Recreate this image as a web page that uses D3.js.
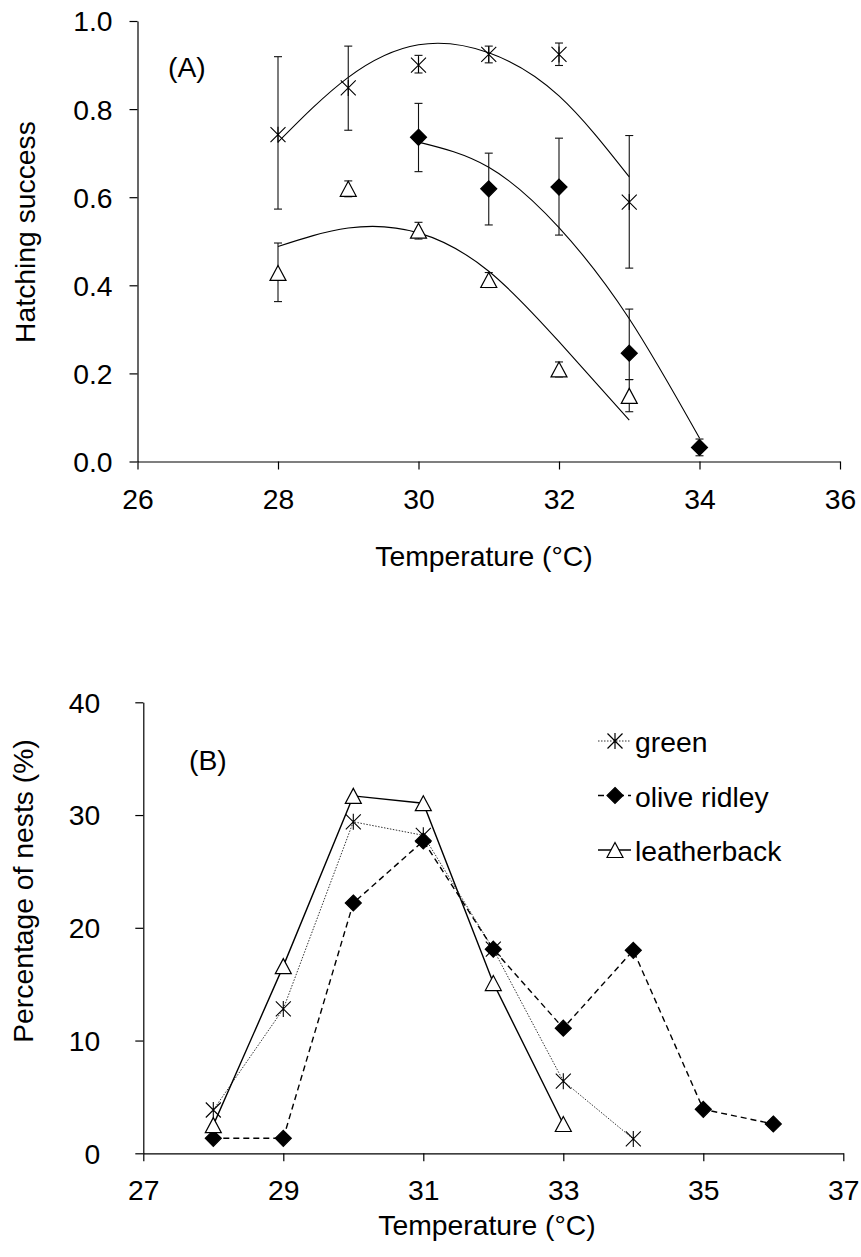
<!DOCTYPE html>
<html>
<head>
<meta charset="utf-8">
<script src="https://cdn.jsdelivr.net/npm/d3@7"></script>
<style>
body { margin: 0; background: #fff; }
text { font-family: Arial, "Liberation Sans", Helvetica, sans-serif; fill: #000; }
</style>
</head>
<body>
<script>
// panel A: hatching success vs temperature (mean with error bars, quadratic trend)
var greenTempA = [28, 29, 30, 31, 32, 33]
var greenA = [0.742, 0.848, 0.900, 0.924, 0.924, 0.589]
var greenHiA = [0.919, 0.943, 0.922, 0.943, 0.950, 0.740]
var greenLoA = [0.573, 0.752, 0.882, 0.905, 0.899, 0.439]
var greenFitA = [0.725, 0.872, 0.946, 0.928, 0.830, 0.646]

var oliveTempA = [30, 31, 32, 33, 34]
var oliveA = [0.736, 0.619, 0.623, 0.246, 0.032]
var oliveHiA = [0.813, 0.700, 0.734, 0.346, 0.051]
var oliveLoA = [0.658, 0.537, 0.514, 0.186, 0.013]
var oliveFitA = [0.725, 0.668, 0.531, 0.324, 0.053]

var leatherTempA = [28, 29, 30, 31, 32, 33]
var leatherA = [0.428, 0.619, 0.524, 0.412, 0.209, 0.149]
var leatherHiA = [0.496, 0.637, 0.543, 0.429, 0.226, 0.186]
var leatherLoA = [0.363, 0.601, 0.505, 0.395, 0.192, 0.113]
var leatherFitA = [0.488, 0.530, 0.519, 0.432, 0.272, 0.094]

var xTicksA = [26, 28, 30, 32, 34, 36]
var yTicksA = [0, 0.2, 0.4, 0.6, 0.8, 1.0]

// panel B: percentage of nests per temperature
var greenTempB = [28, 29, 30, 31, 32, 33, 34]
var greenB = [3.84, 12.8, 29.4, 28.2, 18.1, 6.4, 1.27]
var oliveTempB = [28, 29, 30, 31, 32, 33, 34, 35, 36]
var oliveB = [1.33, 1.33, 22.2, 27.7, 18.1, 11.1, 18.0, 3.9, 2.6]
var leatherTempB = [28, 29, 30, 31, 32, 33]
var leatherB = [2.5, 16.6, 31.7, 31.05, 15.1, 2.6]

var xTicksB = [27, 29, 31, 33, 35, 37]
var yTicksB = [0, 10, 20, 30, 40]

var species = ["green", "olive ridley", "leatherback"]

var width = 861, height = 1257
var fontSize = 28.3

var svg = d3.select("body")
.append("svg")
.attr("width", width)
.attr("height", height);

//marker shapes, centred on 0,0
function markerPath(kind) {
	if (kind == "star") return "M-7.5,-7.5L7.5,7.5M-7.5,7.5L7.5,-7.5M0,-8L0,8"
	if (kind == "diamond") return "M0,-8L8,0L0,8L-8,0Z"
	return "M0,-7.5L8,7.5L-8,7.5Z"
}

function drawMarkers(g, xs, ys, kind, x, y) {
	g.selectAll(null)
	.data(xs.map(function(t, i) { return [t, ys[i]] }))
	.enter()
	.append("path")
	.attr("d", markerPath(kind))
	.attr("transform", function(d) { return "translate(" + x(d[0]) + "," + y(d[1]) + ")" })
	.attr("fill", kind == "diamond" ? "#000" : kind == "triangle" ? "#fff" : "none")
	.attr("stroke", "#000")
	.attr("stroke-width", kind == "star" ? 1.1 : 1.2)
}

function drawErrorBars(g, xs, lo, hi, x, y) {
	var bars = g.selectAll(null)
	.data(xs.map(function(t, i) { return [t, lo[i], hi[i]] }))
	.enter()
	.append("g")
	.attr("stroke", "#111")
	.attr("stroke-width", 1.1)
	bars.append("line")
	.attr("x1", function(d) { return x(d[0]) })
	.attr("x2", function(d) { return x(d[0]) })
	.attr("y1", function(d) { return y(d[1]) })
	.attr("y2", function(d) { return y(d[2]) })
	bars.selectAll(null)
	.data(function(d) { return [[d[0], d[1]], [d[0], d[2]]] })
	.enter()
	.append("line")
	.attr("x1", function(d) { return x(d[0]) - 4 })
	.attr("x2", function(d) { return x(d[0]) + 4 })
	.attr("y1", function(d) { return y(d[1]) })
	.attr("y2", function(d) { return y(d[1]) })
}

function styleAxis(g) {
	g.select(".domain").attr("stroke", "#000").attr("stroke-width", 1.2)
	g.selectAll(".tick line").attr("stroke", "#000").attr("stroke-width", 1.2)
	g.selectAll("text").attr("font-size", fontSize).attr("font-family", null).attr("fill", "#000")
}

// ---------- panel A ----------
var xA = d3.scaleLinear().domain([26, 36]).range([137.5, 840])
var yA = d3.scaleLinear().domain([0, 1]).range([461.5, 21])
var gA = svg.append("g")

gA.append("g")
.attr("transform", "translate(0," + yA(0) + ")")
.call(d3.axisBottom(xA).tickValues(xTicksA).tickSize(8).tickSizeOuter(0))
.call(styleAxis)
.call(function(g) { g.selectAll("text").attr("dy", null).attr("y", 47) })

gA.append("g")
.attr("transform", "translate(" + xA(26) + ",0)")
.call(d3.axisLeft(yA).tickValues(yTicksA).tickFormat(d3.format(".1f")).tickSize(8).tickSizeOuter(0))
.call(styleAxis)
.call(function(g) { g.selectAll("text").attr("x", -25).attr("dy", "0.35em") })

var fitLine = function(xs, ys) {
	return d3.line().curve(d3.curveNatural)
	.x(function(d) { return xA(d) })
	.y(function(d, i) { return yA(ys[i]) })(xs)
}
;[[greenTempA, greenFitA], [oliveTempA, oliveFitA], [leatherTempA, leatherFitA]].forEach(function(s) {
	gA.append("path")
	.attr("d", fitLine(s[0], s[1]))
	.attr("fill", "none")
	.attr("stroke", "#000")
	.attr("stroke-width", 1.1)
})

drawErrorBars(gA, greenTempA, greenLoA, greenHiA, xA, yA)
drawErrorBars(gA, oliveTempA, oliveLoA, oliveHiA, xA, yA)
drawErrorBars(gA, leatherTempA, leatherLoA, leatherHiA, xA, yA)
drawMarkers(gA, greenTempA, greenA, "star", xA, yA)
drawMarkers(gA, oliveTempA, oliveA, "diamond", xA, yA)
drawMarkers(gA, leatherTempA, leatherA, "triangle", xA, yA)

gA.append("text").attr("x", 168).attr("y", 77).attr("font-size", fontSize).text("(A)")
gA.append("text").attr("x", 484).attr("y", 566).attr("text-anchor", "middle")
.attr("font-size", fontSize).text("Temperature (°C)")
gA.append("text").attr("transform", "translate(35,232) rotate(-90)").attr("text-anchor", "middle")
.attr("font-size", fontSize).text("Hatching success")

// ---------- panel B ----------
var xB = d3.scaleLinear().domain([27, 37]).range([143.3, 843.3])
var yB = d3.scaleLinear().domain([0, 40]).range([1153.3, 702.3])
var gB = svg.append("g")

gB.append("g")
.attr("transform", "translate(0," + yB(0) + ")")
.call(d3.axisBottom(xB).tickValues(xTicksB).tickSize(8).tickSizeOuter(0))
.call(styleAxis)
.call(function(g) { g.selectAll("text").attr("dy", null).attr("y", 46.5) })

gB.append("g")
.attr("transform", "translate(" + xB(27) + ",0)")
.call(d3.axisLeft(yB).tickValues(yTicksB).tickSize(8).tickSizeOuter(0))
.call(styleAxis)
.call(function(g) { g.selectAll("text").attr("x", -43).attr("dy", "0.35em") })

var seriesB = [
	{ temps: greenTempB, vals: greenB, kind: "star", dash: "1.5,1.5", sw: 1, col: "#333" },
	{ temps: oliveTempB, vals: oliveB, kind: "diamond", dash: "6,4", sw: 1.4, col: "#000" },
	{ temps: leatherTempB, vals: leatherB, kind: "triangle", dash: null, sw: 1.4, col: "#000" }
]

seriesB.forEach(function(s) {
	gB.append("path")
	.attr("d", d3.line().x(function(d) { return xB(d) }).y(function(d, i) { return yB(s.vals[i]) })(s.temps))
	.attr("fill", "none")
	.attr("stroke", s.col)
	.attr("stroke-width", s.sw)
	.attr("stroke-dasharray", s.dash)
})
seriesB.forEach(function(s) {
	drawMarkers(gB, s.temps, s.vals, s.kind, xB, yB)
})

//legend
var legend = gB.selectAll(".legendRow")
.data(seriesB)
.enter()
.append("g")
.attr("class", "legendRow")
.attr("transform", function(d, i) { return "translate(615," + (741 + i * 54.5) + ")" })

legend.append("line")
.attr("x1", -17).attr("x2", 16)
.attr("stroke", function(d) { return d.col })
.attr("stroke-width", function(d) { return d.sw })
.attr("stroke-dasharray", function(d) { return d.dash })
legend.append("path")
.attr("d", function(d) { return markerPath(d.kind) })
.attr("fill", function(d) { return d.kind == "diamond" ? "#000" : d.kind == "triangle" ? "#fff" : "none" })
.attr("stroke", "#000")
.attr("stroke-width", 1.2)
legend.append("text")
.attr("x", 20)
.attr("y", 11)
.attr("font-size", fontSize)
.text(function(d, i) { return species[i] })

gB.append("text").attr("x", 189).attr("y", 770).attr("font-size", fontSize).text("(B)")
gB.append("text").attr("x", 487).attr("y", 1235).attr("text-anchor", "middle")
.attr("font-size", fontSize).text("Temperature (°C)")
gB.append("text").attr("transform", "translate(33,891) rotate(-90)").attr("text-anchor", "middle")
.attr("font-size", fontSize).text("Percentage of nests (%)")
</script>
</body>
</html>
